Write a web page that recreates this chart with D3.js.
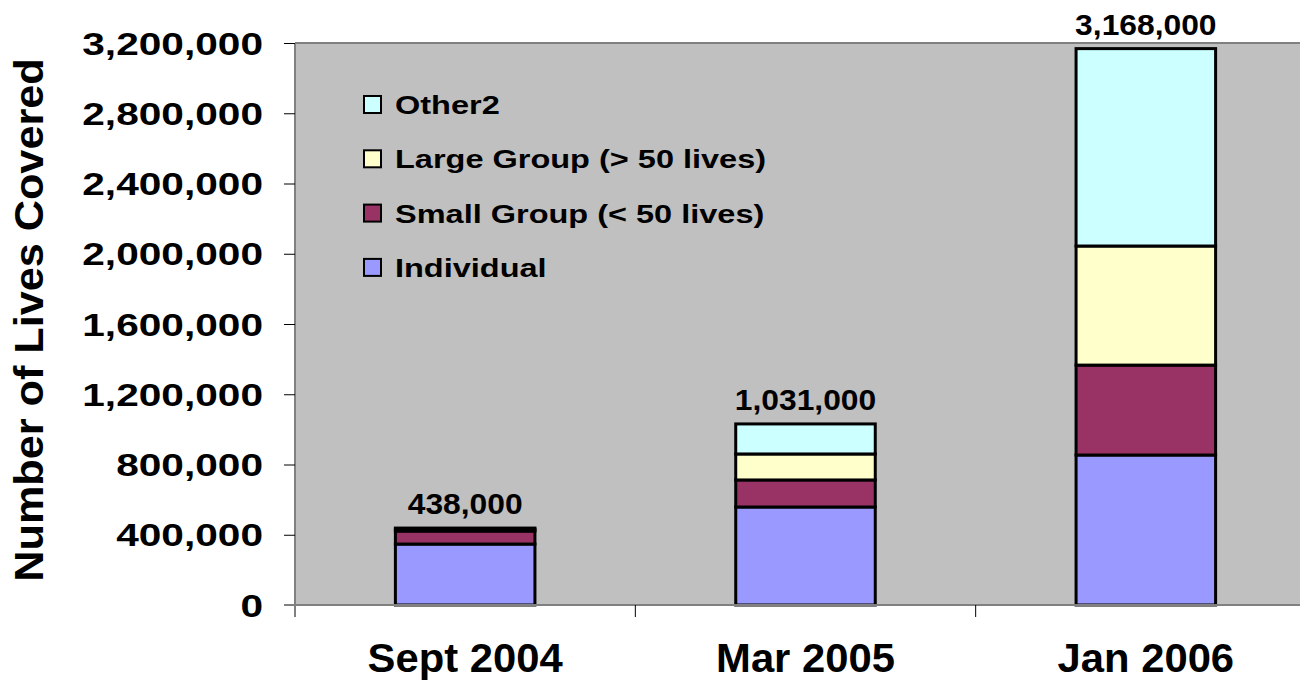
<!DOCTYPE html>
<html>
<head>
<meta charset="utf-8">
<script src="https://cdn.jsdelivr.net/npm/d3@7"></script>
<style>
  body { margin: 0; background: #fff; }
  text { font-family: "Liberation Sans", Arial, sans-serif; font-weight: bold; fill: #000; }
</style>
</head>
<body>
<div id="graph"></div>
<script>
const WIDTH = 1300, HEIGHT = 684;
const margin = {top: 43, right: -16, bottom: 79, left: 295};

const categories = ["Sept 2004", "Mar 2005", "Jan 2006"];
const seriesNames = ["Individual", "Small Group (< 50 lives)", "Large Group (> 50 lives)", "Other2"];
const individual = [347000, 558000, 854000];
const smallGroup = [74000, 154000, 512000];
const largeGroup = [10000, 148000, 678000];
const other2 = [7000, 171000, 1124000];
const totals = [438000, 1031000, 3168000];
const yTicks = [0, 400000, 800000, 1200000, 1600000, 2000000, 2400000, 2800000, 3200000];
const colors = ["#9999ff", "#993366", "#ffffcc", "#ccffff"];

let rows = categories.map((c, i) => ({
    cat: c,
    [seriesNames[0]]: individual[i],
    [seriesNames[1]]: smallGroup[i],
    [seriesNames[2]]: largeGroup[i],
    [seriesNames[3]]: other2[i]
}));

let plot_w = WIDTH - margin.left - margin.right, plot_h = HEIGHT - margin.top - margin.bottom;

let svg = d3.select("#graph")
    .append("svg")
    .attr("width", WIDTH)
    .attr("height", HEIGHT);

let g = svg.append("g")
    .attr("transform", `translate(${margin.left}, ${margin.top})`);

let x = d3.scaleBand()
    .domain(categories)
    .range([0, plot_w])
    .paddingInner(0.59)
    .paddingOuter(0.295);

let y = d3.scaleLinear()
    .domain([0, 3200000])
    .range([plot_h, 0]);

let color = d3.scaleOrdinal().domain(seriesNames).range(colors);

// stretched bold text, like the original rendering
function wideText(parent, px, py, str, size, sx, anchor) {
    return parent.append("text")
        .attr("transform", `translate(${px}, ${py}) scale(${sx}, 1)`)
        .attr("text-anchor", anchor)
        .style("font-size", size + "px")
        .text(str);
}

g.append("rect")
    .attr("width", plot_w)
    .attr("height", plot_h)
    .attr("fill", "#c0c0c0");

g.append("line")
    .attr("x1", 0).attr("x2", plot_w)
    .attr("y1", 0).attr("y2", 0)
    .attr("stroke", "#808080")
    .attr("stroke-width", 2);

let stacked = d3.stack().keys(seriesNames)(rows);

g.selectAll(".layer")
    .data(stacked)
    .enter().append("g")
    .attr("class", "layer")
    .attr("fill", d => color(d.key))
    .selectAll("rect")
    .data(d => d)
    .enter().append("rect")
    .attr("x", d => x(d.data.cat))
    .attr("width", x.bandwidth())
    .attr("y", d => y(d[1]))
    .attr("height", d => y(d[0]) - y(d[1]))
    .attr("stroke", "#000")
    .attr("stroke-width", 3);

// y axis
let y_axis = g.append("g")
    .call(d3.axisLeft(y).tickValues(yTicks).tickSize(11).tickFormat(""));
y_axis.select(".domain").attr("stroke", "#808080").attr("stroke-width", 2)
    .attr("d", `M0,0V${plot_h + 12}`);
y_axis.selectAll(".tick line").attr("stroke", "#000");

yTicks.forEach(t => {
    wideText(g, -32, y(t), d3.format(",")(t), 32, 1.27, "end").attr("dy", "0.36em");
});

// x axis
g.append("line")
    .attr("x1", -11).attr("x2", plot_w)
    .attr("y1", plot_h).attr("y2", plot_h)
    .attr("stroke", "#808080")
    .attr("stroke-width", 2);

let step = x.step();
g.selectAll(".xtick")
    .data(categories.slice(1))
    .enter().append("line")
    .attr("class", "xtick")
    .attr("x1", d => x(d) - step * x.paddingInner() / 2)
    .attr("x2", d => x(d) - step * x.paddingInner() / 2)
    .attr("y1", plot_h)
    .attr("y2", plot_h + 12)
    .attr("stroke", "#000");

categories.forEach(c => {
    wideText(g, x(c) + x.bandwidth() / 2, plot_h + 67, c, 40, 1.045, "middle");
});

// totals above the bars
categories.forEach((c, i) => {
    wideText(g, x(c) + x.bandwidth() / 2, y(totals[i]) - 14, d3.format(",")(totals[i]), 30, 1.06, "middle");
});

// y title
svg.append("text")
    .attr("transform", `translate(43, ${margin.top + plot_h / 2 - 4}) rotate(-90) scale(1.08, 1)`)
    .attr("text-anchor", "middle")
    .style("font-size", "40px")
    .text("Number of Lives Covered");

// legend
let legend = svg.append("g").attr("transform", "translate(364, 114)");
seriesNames.slice().reverse().forEach((s, i) => {
    let row = legend.append("g").attr("transform", `translate(0, ${i * 54.3})`);
    row.append("rect")
        .attr("x", 0).attr("y", -18)
        .attr("width", 17).attr("height", 17)
        .attr("fill", color(s))
        .attr("stroke", "#000")
        .attr("stroke-width", 2);
    wideText(row, 31, 0, s, 26, 1.25, "start");
});
</script>
</body>
</html>
